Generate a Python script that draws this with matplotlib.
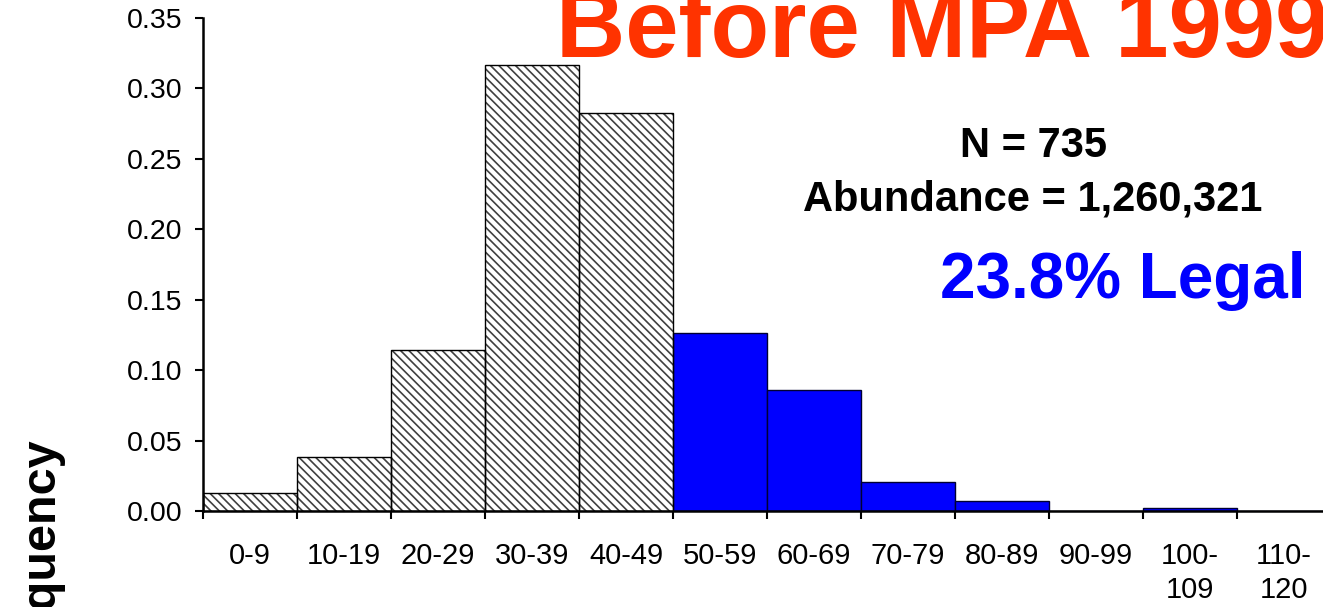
import matplotlib
matplotlib.use("Agg")
import matplotlib.pyplot as plt
import numpy as np

W, H = 1323, 607

categories = ["0-9", "10-19", "20-29", "30-39", "40-49", "50-59", "60-69",
              "70-79", "80-89", "90-99", "100-\n109", "110-\n120"]
frequency = [0.0128, 0.0383, 0.1143, 0.3166, 0.2826, 0.1264, 0.0859,
             0.0206, 0.0071, 0.0, 0.0020, 0.0]
legal = [False, False, False, False, False, True, True,
         True, True, True, True, True]

plt.rcParams["font.family"] = ["Liberation Sans", "DejaVu Sans"]
plt.rcParams["hatch.linewidth"] = 1.2

fig = plt.figure(figsize=(W / 100, H / 100), dpi=100)

def px(x, y):
    # pixel position -> figure fraction
    return x / W, 1 - y / H

left, top = px(203, 18)
_, bottom = px(0, 511)
ax = fig.add_axes([left, bottom, 94 * 12 / W, top - bottom])

x = np.arange(len(categories))
for i in range(len(categories)):
    if legal[i]:
        ax.bar(x[i], frequency[i], width=1.0, color="#0000ff",
               edgecolor="#000033", linewidth=1.0, zorder=2)
    else:
        ax.bar(x[i], frequency[i], width=1.0, color="white",
               edgecolor="#404040", hatch="\\\\\\\\", linewidth=0, zorder=2)
        ax.bar(x[i], frequency[i], width=1.0, fill=False,
               edgecolor="black", linewidth=1.0, zorder=3)

ax.set_xlim(-0.5, len(categories) - 0.5)
ax.set_ylim(0, 0.35)
ax.set_yticks(np.arange(0, 0.351, 0.05))
ax.set_yticklabels(["%.2f" % v for v in np.arange(0, 0.351, 0.05)])

# ticks at bin edges, labels at bin centres
ax.set_xticks(np.arange(-0.5, len(categories), 1.0))
ax.set_xticklabels([])
ax.set_xticks(x, minor=True)
ax.set_xticklabels(categories, minor=True, fontsize=21, linespacing=1.3)
ax.tick_params(axis="x", which="minor", length=0, pad=22)
ax.tick_params(axis="x", which="major", length=6, width=1.5, direction="out")
ax.tick_params(axis="y", length=6, width=1.5, direction="out", pad=9,
               labelsize=20.5)

for s in ["top", "right"]:
    ax.spines[s].set_visible(False)
for s in ["left", "bottom"]:
    ax.spines[s].set_linewidth(1.8)

# y label (cut off at the bottom in the original)
fx, fy = px(40, 559)
fig.text(fx, fy, "Frequency", rotation=90, fontsize=35, fontweight="bold",
         ha="center", va="center")

fx, fy = px(556, 57)
fig.text(fx, fy, "Before MPA 1999", color="#ff3300", fontsize=69,
         fontweight="bold", ha="left", va="baseline")

fx, fy = px(1033, 157)
fig.text(fx, fy, "N = 735", fontsize=30, fontweight="bold",
         ha="center", va="baseline")
fx, fy = px(1033, 210)
fig.text(fx, fy, "Abundance = 1,260,321", fontsize=30, fontweight="bold",
         ha="center", va="baseline")
fx, fy = px(1123, 298)
fig.text(fx, fy, "23.8% Legal", color="#0000ff", fontsize=46,
         fontweight="bold", ha="center", va="baseline")

fig.savefig("out.png", dpi=100)
